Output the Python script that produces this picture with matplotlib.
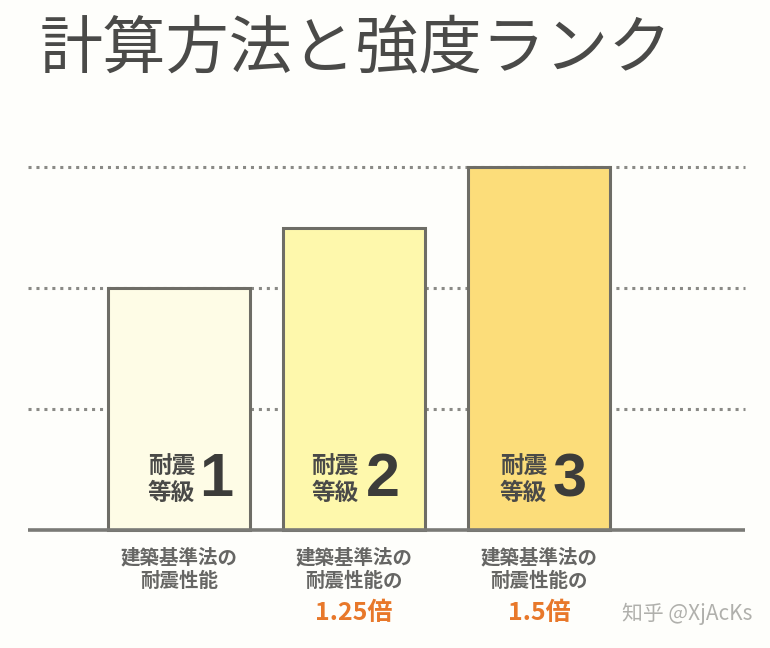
import matplotlib.pyplot as plt

plt.rcParams['font.family'] = ['Noto Sans CJK JP', 'DejaVu Sans']

# data
ranks = ["1", "2", "3"]
ratios = [1.0, 1.25, 1.5]
line1 = ["建築基準法の", "建築基準法の", "建築基準法の"]
line2 = ["耐震性能", "耐震性能の", "耐震性能の"]
multipliers = ["", "1.25倍", "1.5倍"]
grid_levels = [0.5, 1.0, 1.5]
bar_colors = ["#FEFCE6", "#FEF8AC", "#FCDD7A"]

W, H = 770, 648
fig = plt.figure(figsize=(W / 100, H / 100), dpi=100, facecolor="#FEFEFB")
ax = fig.add_axes([0, 0, 1, 1])
ax.set_facecolor("#FEFEFB")

# pixel scale: baseline at y=530, 1.0 -> 242 px
base_px, unit_px = 530, 242
ax.set_xlim(0, W)
ax.set_ylim(-(H - base_px) / unit_px, base_px / unit_px)
ax.axis("off")

centers = [179, 353.5, 539]
width = 142
label_shift = [16, 5, 8]    # right edge of "耐震等級" relative to bar centre
digit_shift = [37, 29, 31]  # centre of the big digit relative to bar centre

for lv in grid_levels:
    ax.plot([28, 745], [lv, lv], linestyle=(0, (1, 1.6)), color="#8a8a86",
            linewidth=2.2, zorder=1)

ax.bar(centers, ratios, width=width, color=bar_colors, edgecolor="#6e6d66",
       linewidth=2.2, zorder=2)
ax.plot([28, 745], [0, 0], color="#7a7a76", linewidth=2.6, zorder=3,
        solid_capstyle="butt")

to_y = lambda px: (base_px - px) / unit_px

for c, s, d, r, a, b, m in zip(centers, label_shift, digit_shift, ranks,
                               line1, line2, multipliers):
    ax.text(c + s, to_y(480), "耐震\n等級", ha="right", va="center",
            fontsize=17, color="#4a4a48", fontweight="bold", linespacing=1.1)
    ax.text(c + d, to_y(481), r, ha="center", va="center", fontsize=44,
            color="#3c3c3a", fontweight="bold",
            family=["Liberation Sans", "DejaVu Sans"])
    ax.text(c, to_y(558), a, ha="center", va="center", fontsize=14,
            color="#666664", fontweight="bold")
    ax.text(c, to_y(581), b, ha="center", va="center", fontsize=14,
            color="#666664", fontweight="bold")
    if m:
        ax.text(c, to_y(613), m, ha="center", va="center", fontsize=18,
                color="#E8782A", fontweight="bold")

ax.text(40, to_y(50), "計算方法と強度ランク", ha="left", va="center",
        fontsize=45.5, color="#4a4a48")
ax.text(752, to_y(614), "知乎 @XjAcKs", ha="right", va="center",
        fontsize=15, color="#b0b0ac")

fig.savefig("out.png", dpi=100, facecolor=fig.get_facecolor())
